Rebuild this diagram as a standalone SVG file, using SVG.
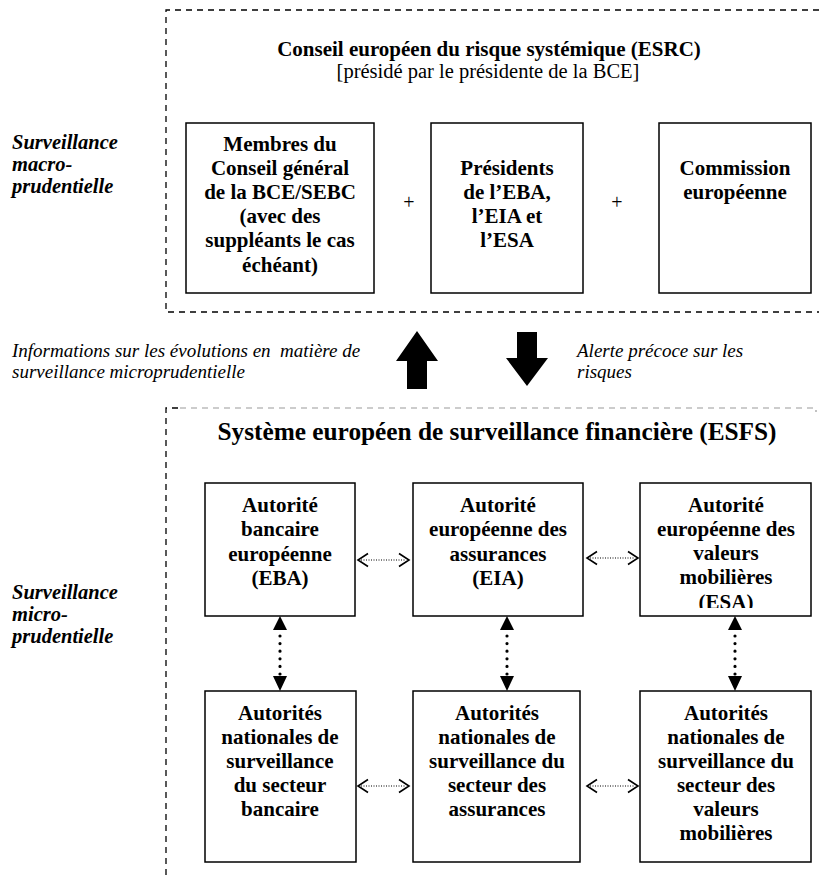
<svg xmlns="http://www.w3.org/2000/svg" width="819" height="880" viewBox="0 0 819 880">
<style>
text { font-family: "Liberation Serif", "Times New Roman", serif; fill: #000; }
.t { font-size: 21px; font-weight: bold; text-anchor: middle; }
.box { fill: #fff; stroke: #000; stroke-width: 1.5; }
.dash { fill: none; stroke: #000; stroke-width: 1.3; stroke-dasharray: 6 5; }
.gdash { fill: none; stroke: #999; stroke-width: 1.2; stroke-dasharray: 6 5; }
.lab { font-size: 20.5px; font-weight: bold; font-style: italic; }
.it { font-size: 19px; font-style: italic; }
.vdot { stroke: #000; stroke-width: 3.2; stroke-linecap: round; stroke-dasharray: 0 7.6; fill: none; }
.hdot { stroke: #000; stroke-width: 1.2; stroke-dasharray: 1 1.5; fill: none; }
.chev { stroke: #000; stroke-width: 1.6; fill: none; }
</style>
<defs>
<clipPath id="clipEsa"><rect x="640" y="483" width="172" height="125"/></clipPath>
</defs>

<g id="esrc-frame">
<path class="dash" d="M830 10 H166 V312 H830"/>
<text x="489" y="56" font-size="21" font-weight="bold" text-anchor="middle">Conseil européen du risque systémique (ESRC)</text>
<text x="488" y="78" font-size="20.5" text-anchor="middle">[présidé par le présidente de la BCE]</text>
</g>

<g id="esfs-frame">
<path class="gdash" d="M180 408 H816 V412"/>
<path class="dash" d="M178 408 H166 V880"/>
<text x="497" y="440" font-size="25.3" font-weight="bold" text-anchor="middle">Système européen de surveillance financière (ESFS)</text>
</g>

<g id="label-macro">
<text class="lab" x="12" y="149">Surveillance</text>
<text class="lab" x="12" y="171">macro-</text>
<text class="lab" x="12" y="193">prudentielle</text>
</g>
<g id="label-micro">
<text class="lab" x="12" y="599">Surveillance</text>
<text class="lab" x="12" y="621">micro-</text>
<text class="lab" x="12" y="643">prudentielle</text>
</g>

<g id="membres">
<rect class="box" x="186" y="123" width="188" height="170"/>
<text class="t" x="280" y="151">Membres du</text>
<text class="t" x="280" y="175">Conseil général</text>
<text class="t" x="280" y="199">de la BCE/SEBC</text>
<text class="t" x="280" y="223">(avec des</text>
<text class="t" x="280" y="247">suppléants le cas</text>
<text class="t" x="280" y="272">échéant)</text>
</g>
<g id="presidents">
<rect class="box" x="431" y="123" width="152" height="170"/>
<text class="t" x="507" y="175">Présidents</text>
<text class="t" x="507" y="199">de l’EBA,</text>
<text class="t" x="507" y="223">l’EIA et</text>
<text class="t" x="507" y="247">l’ESA</text>
</g>
<g id="commission">
<rect class="box" x="659" y="123" width="152" height="170"/>
<text class="t" x="735" y="175">Commission</text>
<text class="t" x="735" y="199">européenne</text>
</g>
<g id="plus-signs">
<text x="409" y="209" font-size="20" text-anchor="middle">+</text>
<text x="617" y="209" font-size="20" text-anchor="middle">+</text>
</g>

<g id="flow-info">
<text class="it" x="12" y="357" xml:space="preserve">Informations sur les évolutions en  matière de</text>
<text class="it" x="12" y="378">surveillance microprudentielle</text>
</g>
<g id="flow-alerte">
<text class="it" x="577" y="357">Alerte précoce sur les</text>
<text class="it" x="577" y="378">risques</text>
</g>

<g id="eba">
<rect class="box" x="205" y="483" width="150" height="133"/>
<text class="t" x="280" y="512">Autorité</text>
<text class="t" x="280" y="536">bancaire</text>
<text class="t" x="280" y="561">européenne</text>
<text class="t" x="280" y="585">(EBA)</text>
</g>
<g id="eia">
<rect class="box" x="413" y="483" width="170" height="133"/>
<text class="t" x="498" y="512">Autorité</text>
<text class="t" x="498" y="536">européenne des</text>
<text class="t" x="498" y="561">assurances</text>
<text class="t" x="498" y="585">(EIA)</text>
</g>
<g id="esa">
<rect class="box" x="640" y="483" width="171" height="133"/>
<g clip-path="url(#clipEsa)">
<text class="t" x="726" y="512">Autorité</text>
<text class="t" x="726" y="536">européenne des</text>
<text class="t" x="726" y="560">valeurs</text>
<text class="t" x="726" y="584">mobilières</text>
<text class="t" x="726" y="609">(ESA)</text>
</g>
</g>
<g id="nat-banc">
<rect class="box" x="205" y="691" width="151" height="171"/>
<text class="t" x="280" y="720">Autorités</text>
<text class="t" x="280" y="744">nationales de</text>
<text class="t" x="280" y="768">surveillance</text>
<text class="t" x="280" y="792">du secteur</text>
<text class="t" x="280" y="816">bancaire</text>
</g>
<g id="nat-ass">
<rect class="box" x="413" y="691" width="167" height="171"/>
<text class="t" x="497" y="720">Autorités</text>
<text class="t" x="497" y="744">nationales de</text>
<text class="t" x="497" y="768">surveillance du</text>
<text class="t" x="497" y="792">secteur des</text>
<text class="t" x="497" y="816">assurances</text>
</g>
<g id="nat-val">
<rect class="box" x="640" y="691" width="171" height="171"/>
<text class="t" x="726" y="720">Autorités</text>
<text class="t" x="726" y="744">nationales de</text>
<text class="t" x="726" y="768">surveillance du</text>
<text class="t" x="726" y="792">secteur des</text>
<text class="t" x="726" y="816">valeurs</text>
<text class="t" x="726" y="840">mobilières</text>
</g>

<g id="connectors">
<polygon points="417,331 438,361 427,361 427,389 407,389 407,361 396,361" fill="#000"/>
<polygon points="527,386 548,358 537,358 537,332 517,332 517,358 506,358" fill="#000"/>
<g>
<line class="vdot" x1="280" y1="636" x2="280" y2="674"/>
<polygon points="280,616 287,630 273,630" fill="#000"/>
<polygon points="280,691 287,676 273,676" fill="#000"/>
<line class="vdot" x1="507" y1="636" x2="507" y2="674"/>
<polygon points="507,616 514,630 500,630" fill="#000"/>
<polygon points="507,691 514,676 500,676" fill="#000"/>
<line class="vdot" x1="735" y1="636" x2="735" y2="674"/>
<polygon points="735,616 742,630 728,630" fill="#000"/>
<polygon points="735,691 742,676 728,676" fill="#000"/>
</g>
<g>
<line class="hdot" x1="361" y1="560" x2="406" y2="560"/>
<path class="chev" d="M368 553.5 L358 560 L368 566.5 M399 553.5 L409 560 L399 566.5"/>
<line class="hdot" x1="590" y1="558" x2="635" y2="558"/>
<path class="chev" d="M597 551.5 L587 558 L597 564.5 M628 551.5 L638 558 L628 564.5"/>
<line class="hdot" x1="361" y1="786" x2="406" y2="786"/>
<path class="chev" d="M368 779.5 L358 786 L368 792.5 M399 779.5 L409 786 L399 792.5"/>
<line class="hdot" x1="590" y1="786" x2="635" y2="786"/>
<path class="chev" d="M597 779.5 L587 786 L597 792.5 M628 779.5 L638 786 L628 792.5"/>
</g>
</g>
</svg>
